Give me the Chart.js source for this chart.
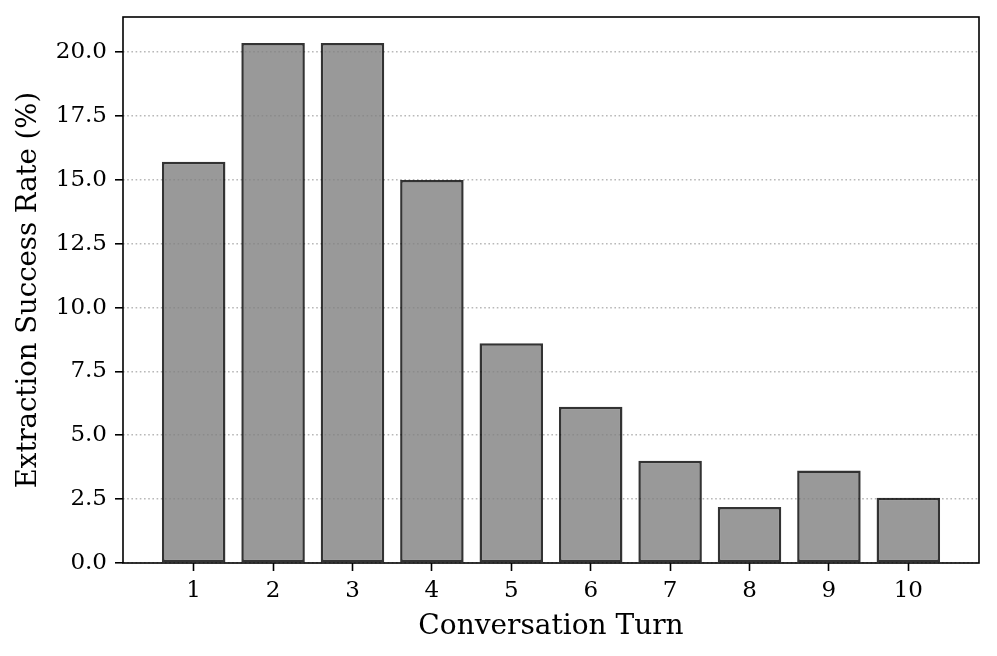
<!DOCTYPE html>
<html>
<head>
<meta charset="utf-8">
<script src="https://cdn.jsdelivr.net/npm/chart.js@4.4.1/dist/chart.umd.min.js"></script>
<style>
  html, body { margin: 0; padding: 0; background: #fff; }
  canvas { display: block; }
</style>
</head>
<body>
<canvas id="myChart" width="997" height="656"></canvas>
<script>
const turns = [1, 2, 3, 4, 5, 6, 7, 8, 9, 10];
const successRates = [15.71, 20.36, 20.36, 15.0, 8.6, 6.12, 4.0, 2.19, 3.62, 2.55];
const yTicks = [0, 2.5, 5, 7.5, 10, 12.5, 15, 17.5, 20];

// matplotlib-style 5% margins around the bars
const barWidth = 0.8;
const xLo = turns[0] - barWidth / 2, xHi = turns[turns.length - 1] + barWidth / 2;
const xMargin = (xHi - xLo) * 0.05;
const yMax = Math.max(...successRates) * 1.05;

const serif = "'DejaVu Serif', 'Liberation Serif', serif";

const frame = {
  id: 'frame',
  afterDraw(chart) {
    const { ctx, chartArea: a } = chart;
    ctx.save();
    ctx.strokeStyle = '#000';
    ctx.lineWidth = 1.6;
    ctx.strokeRect(a.left, a.top, a.right - a.left, a.bottom - a.top);
    ctx.restore();
  }
};

function plotBars() {
  const ctx = document.getElementById("myChart").getContext("2d");
  window.chartInstance = new Chart(ctx, {
    type: 'bar',
    data: {
      datasets: [{
        data: turns.map((t, i) => ({ x: t, y: successRates[i] })),
        backgroundColor: 'rgba(128,128,128,0.8)',
        borderColor: 'rgba(0,0,0,0.8)',
        borderWidth: 2.5,
        borderSkipped: false,
        categoryPercentage: 1.0,
        barPercentage: barWidth
      }]
    },
    options: {
      responsive: false,
      animation: false,
      layout: { padding: { left: 0, right: 18, top: 17, bottom: 0 } },
      plugins: { legend: { display: false }, tooltip: { enabled: false } },
      scales: {
        x: {
          type: 'linear',
          offset: false,
          min: xLo - xMargin,
          max: xHi + xMargin,
          afterBuildTicks: s => { s.ticks = turns.map(v => ({ value: v })); },
          afterFit: s => { s.height = 93; s.paddingLeft = 0; s.paddingRight = 0; },
          border: { display: false },
          grid: { offset: false, drawOnChartArea: false, drawTicks: true, tickLength: 8, tickColor: '#000', tickWidth: 1.6 },
          ticks: { color: '#000', padding: 6, font: { family: serif, size: 23 }, maxRotation: 0, autoSkip: false },
          title: { display: true, text: 'Conversation Turn', color: '#000', font: { family: serif, size: 28 }, padding: { top: 0, bottom: 12 } }
        },
        y: {
          min: 0,
          max: yMax,
          afterBuildTicks: s => { s.ticks = yTicks.map(v => ({ value: v })); },
          afterFit: s => { s.width = 123; s.paddingTop = 0; s.paddingBottom = 0; },
          border: { display: false, dash: [1.6, 2.6] },
          grid: {
            color: 'rgba(176,176,176,0.9)',
            lineWidth: 1.6,
            tickLength: 8,
            tickColor: '#000',
            tickWidth: 1.6,
            tickBorderDash: []
          },
          ticks: { color: '#000', padding: 8, font: { family: serif, size: 23 }, callback: v => Number(v).toFixed(1) },
          title: { display: true, text: 'Extraction Success Rate (%)', color: '#000', font: { family: serif, size: 27.5 }, padding: { top: 12, bottom: 0 } }
        }
      }
    },
    plugins: [frame]
  });
}

plotBars();
</script>
</body>
</html>
